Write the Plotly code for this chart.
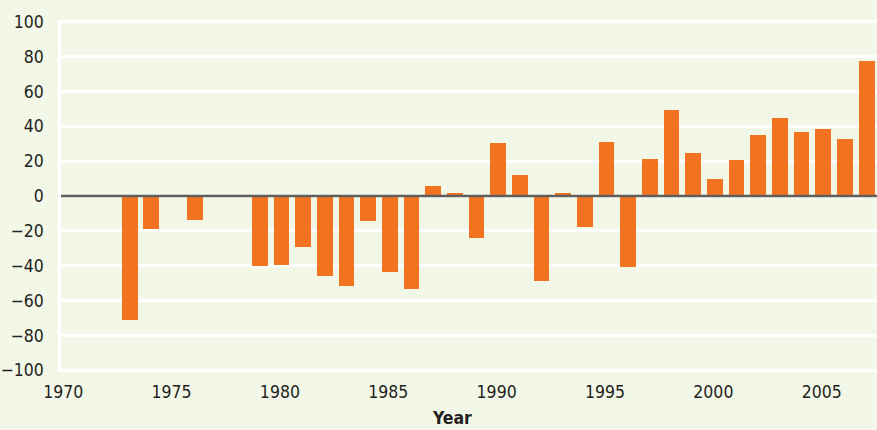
import plotly.graph_objects as go

years = [1973, 1974, 1976, 1979, 1980, 1981, 1982, 1983, 1984, 1985, 1986,
         1987, 1988, 1989, 1990, 1991, 1992, 1993, 1994, 1995, 1996, 1997,
         1998, 1999, 2000, 2001, 2002, 2003, 2004, 2005, 2006, 2007]
values = [-71, -19, -14, -40, -39.5, -29, -46, -51.5, -14.5, -43.5, -53.5,
          6, 1.5, -24, 30.5, 12, -49, 2, -17.5, 31, -40.5, 21.5,
          49.5, 24.5, 9.5, 20.5, 35, 45, 36.5, 38.5, 33, 77.5]
x_ticks = [1970, 1975, 1980, 1985, 1990, 1995, 2000, 2005]
y_ticks = [100, 80, 60, 40, 20, 0, -20, -40, -60, -80, -100]
y_tick_labels = ["100", "80", "60", "40", "20", "0", "\u221220", "\u221240",
                 "\u221260", "\u221280", "\u2212100"]

BG = "#f3f7e7"
FONT = "Liberation Sans Narrow, DejaVu Sans Condensed, Arial Narrow, sans-serif"

fig = go.Figure()
fig.add_trace(go.Bar(x=[y + 0.07 for y in years], y=values, width=0.73,
                     marker=dict(color="#f47321", line=dict(width=0)),
                     showlegend=False))

fig.add_shape(type="line", xref="paper", yref="y", x0=0, x1=1, y0=0, y1=0,
              line=dict(color="#5f5f5c", width=2.5), layer="above")

fig.update_layout(
    width=877, height=430,
    margin=dict(l=58, r=0, t=20, b=58),
    paper_bgcolor=BG, plot_bgcolor=BG,
    bargap=0,
    font=dict(family=FONT, size=17.5, color="#231f20"),
    xaxis=dict(range=[1969.9, 2007.55], tickvals=x_ticks,
               ticktext=[str(t) for t in x_ticks],
               showgrid=False, zeroline=False, showline=False,
               ticks="", ticklabelstandoff=7),
    yaxis=dict(range=[-101, 101], tickvals=y_ticks, ticktext=y_tick_labels,
               showgrid=True, gridcolor="#ffffff", gridwidth=2.5,
               zeroline=False, showline=True, linecolor="#ffffff",
               linewidth=2.5, ticks="", ticklabelstandoff=11),
    annotations=[dict(text="<b>Year</b>", xref="paper", yref="paper",
                      x=0.479, y=-0.097, xanchor="center", yanchor="top",
                      showarrow=False, font=dict(family=FONT, size=17.5,
                                                  color="#231f20"))],
)

fig.write_html("out.html",
               config={"displayModeBar": False},
               post_script="document.body.style.margin='0';"
                           "document.body.style.overflow='hidden';")
